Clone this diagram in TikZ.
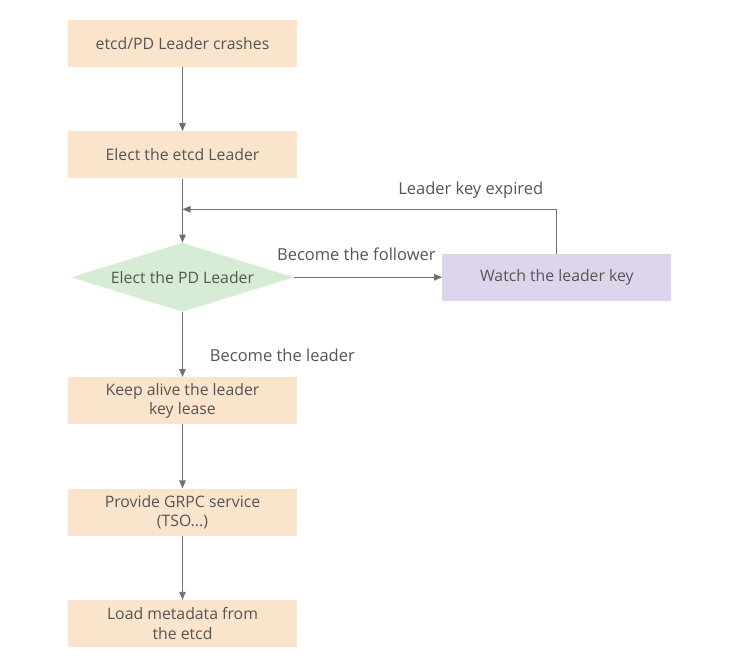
\documentclass[tikz,border=0pt]{standalone}
\usepackage{fontspec}
\setmainfont{Open Sans}
\usepackage{xcolor}
\usepackage{tikz}
\usetikzlibrary{positioning,arrows.meta,shapes.geometric,calc}
\definecolor{pdink}{HTML}{555555}
\definecolor{pdline}{HTML}{707070}
\definecolor{pdpeach}{HTML}{FAE4CB}
\definecolor{pdgreen}{HTML}{D7ECD5}
\definecolor{pdlilac}{HTML}{DCD5EB}
\tikzset{
  box/.style  ={fill=pdpeach,draw=none,align=center,text=pdink,font=\fontsize{15.8}{19.5}\selectfont,minimum width=229pt,minimum height=47pt,inner sep=2pt},
  watch/.style={box,fill=pdlilac},
  dec/.style  ={diamond,fill=pdgreen,draw=none,text=pdink,font=\fontsize{15.8}{19.5}\selectfont,minimum width=223pt,minimum height=69pt,inner sep=0pt,aspect=3.2},
  arr/.style  ={-{Triangle[length=8pt,width=6.5pt]},line width=0.9pt,draw=pdline},
  lbl/.style  ={font=\fontsize{16.5}{20}\selectfont,text=pdink,inner sep=1pt},
}
\begin{document}
\begin{tikzpicture}[node distance=64pt and 148pt]
  \useasboundingbox (0,0) rectangle (750pt,-663pt);
  \node[box] (crash) at (182.5pt,-43.5pt) {etcd/PD Leader crashes};
  \node[box, below=of crash] (etcd) {Elect the etcd Leader};
  \node[dec, below=of etcd] (pd) {Elect the PD Leader};
  \node[watch, right=of pd] (wkey) {Watch the leader key};
  \node[box, below=65pt of pd] (keep) {Keep alive the leader\\key lease};
  \node[box, below=of keep] (grpc) {Provide GRPC service\\(TSO...)};
  \node[box, below=of grpc] (meta) {Load metadata from\\the etcd};

  \draw[arr] (crash) -- (etcd);
  \draw[arr] (etcd) -- (pd);
  \draw[arr] (pd) -- node[lbl,pos=0.42,above=15pt]{Become the follower} (wkey);
  % re-election loop
  \coordinate (join) at ($(etcd.south)!0.48!(pd.north)$);
  \draw[arr] (wkey.north) |- node[lbl,pos=0.615,above=9pt]{Leader key expired} (join);
  \draw[arr] (pd) -- node[lbl,pos=0.66,right=26pt]{Become the leader} (keep);
  \draw[arr] (keep) -- (grpc);
  \draw[arr] (grpc) -- (meta);
\end{tikzpicture}
\end{document}
